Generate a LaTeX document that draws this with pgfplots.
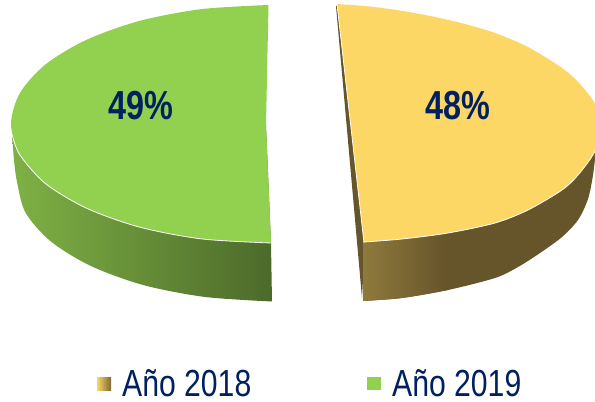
\documentclass[border=0pt]{standalone}
\usepackage{graphicx}
\usepackage{fontspec}
\setmainfont{Liberation Sans}
\usepackage{pgfplots}
\pgfplotsset{compat=1.18}
\definecolor{navy}{HTML}{002060}
\definecolor{gtop}{HTML}{92D050}
\definecolor{ytop}{HTML}{FCD766}
\definecolor{gw1}{RGB}{127,177,69}
\definecolor{gw2}{RGB}{106,148,56}
\definecolor{gw3}{RGB}{76,106,42}
\definecolor{yw1}{RGB}{142,122,60}
\definecolor{yw2}{RGB}{102,84,42}
\definecolor{ls2}{RGB}{125,105,52}
\begin{document}
\begin{tikzpicture}
\begin{axis}[scale only axis,width=595pt,height=402pt,hide axis,
  xmin=0,xmax=595,ymin=0,ymax=402,y dir=reverse,clip=true,clip mode=individual]
\path (axis cs:0,0) rectangle (axis cs:595,402);
% green wall
\addplot[draw=none,forget plot,left color=gw1,middle color=gw2,right color=gw3,smooth]
 coordinates {(12,134)(14,160)(17,182)(25.6,212.8)(50.9,241.5)(91.1,266.1)(143.5,285.1)(204.5,296.9)(272,301.5)}
 -- (axis cs:271,243) -- (axis cs:266,125) -- cycle;
% yellow walls
\addplot[draw=none,forget plot,fill=yw2]
 coordinates {(336,6)(362,298)(365,243)(338,5)} --cycle;
\addplot[draw=none,forget plot,fill=yw2,smooth]
 coordinates {(363,301)(402,298)(448,290)(495,278)(518,267)(540,253)(562,237)(578,220)(588,199)(593,175)(596,150)}
 -- (axis cs:500,150) -- (axis cs:363,243) -- cycle;
\addplot[draw=none,forget plot,left color=yw1,right color=yw2,smooth]
 coordinates {(363,301)(402,298)(448,290)} -- (axis cs:448,225) -- (axis cs:363,235) -- cycle;
% green top
\addplot[draw=none,forget plot,fill=gtop,smooth]
 coordinates {(268.5,5)(201.5,9.1)(139.5,20.9)(86.3,39.9)(45.4,64.5)(19.8,93.2)(11,124)(19.8,154.8)(45.4,183.5)(86.3,208.1)(139.5,227.1)(201.5,238.9)(271,243)}
 -- (axis cs:266,125) -- cycle;
\addplot[white,line width=0.8pt,forget plot,smooth]
 coordinates {(12,134)(19.8,154.8)(45.4,183.5)(86.3,208.1)(139.5,227.1)(201.5,238.9)(271,243)};
% yellow top
\addplot[draw=none,forget plot,fill=ytop,smooth]
 coordinates {(337,4)(370,6.5)(403,11)(435,17)(465,24)(495,33)(528,47)(562,68)(580,84)(595,104)(603,128)(594,153)(578,175)(562,190)(528,210)(495,223)(448,233)(402,239)(364,242)}
 -- cycle;
\addplot[white,line width=0.8pt,forget plot]
 coordinates {(337,4)(364,243)};
\addplot[white,line width=0.8pt,forget plot,smooth]
 coordinates {(603,128)(594,153)(578,175)(562,190)(528,210)(495,223)(448,233)(402,239)(364,242)};
% legend squares
\addplot[draw=none,forget plot,shading angle=45,left color=ytop,right color=ls2]
 coordinates {(97,377)(111,377)(111,390)(97,390)} --cycle;
\addplot[draw=none,forget plot,fill=gtop]
 coordinates {(367,377)(381,377)(381,390)(367,390)} --cycle;
% labels
\node[navy,font=\fontsize{40.5}{42}\selectfont\bfseries] at (axis cs:141,106) {\scalebox{.8}[1]{49\%}};
\node[navy,font=\fontsize{40.5}{42}\selectfont\bfseries] at (axis cs:458,106) {\scalebox{.8}[1]{48\%}};
\node[navy,font=\fontsize{37.7}{40}\selectfont,anchor=base west,inner sep=0pt] at (axis cs:122,396) {\scalebox{.8}[1]{Año 2018}};
\node[navy,font=\fontsize{37.7}{40}\selectfont,anchor=base west,inner sep=0pt] at (axis cs:392,396) {\scalebox{.8}[1]{Año 2019}};
\end{axis}
\end{tikzpicture}
\end{document}
